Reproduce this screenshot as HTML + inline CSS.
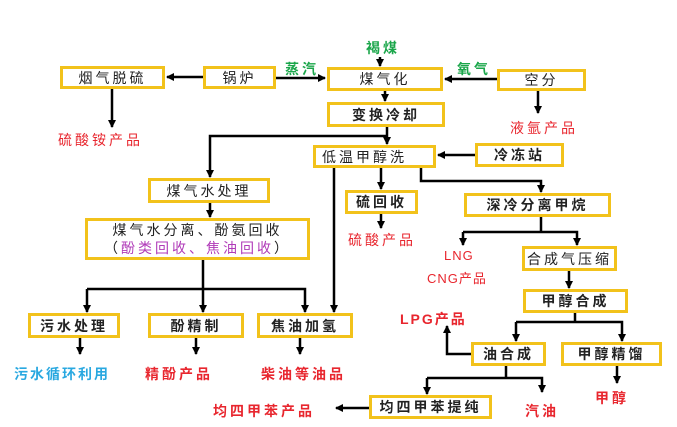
<!DOCTYPE html>
<html><head><meta charset="utf-8"><style>
body{margin:0;background:#fff;}
.w{position:relative;width:677px;height:427px;overflow:hidden;font-family:"Liberation Sans","Noto Sans CJK SC",sans-serif;}
.b{position:absolute;box-sizing:border-box;border:3px solid #f2c21b;background:#fff;display:flex;align-items:center;justify-content:center;font-size:14px;font-weight:bold;color:#222;letter-spacing:3px;white-space:nowrap;}
.t{position:absolute;font-size:14px;font-weight:bold;letter-spacing:3px;white-space:nowrap;}
.r{color:#e8262e}.g{color:#1aa64a}.bl{color:#29a8e0}.p{color:#b03ab8}
svg{position:absolute;left:0;top:0;}
</style></head><body><div class="w">
<svg width="677" height="427">
<defs><marker id="a" markerWidth="8" markerHeight="8" refX="7" refY="4" orient="auto" markerUnits="userSpaceOnUse"><path d="M0,0L8,4L0,8z" fill="#000"/></marker></defs>
<g stroke="#000" stroke-width="2.5" fill="none">
<path d="M203,77H167" marker-end="url(#a)"/>
<path d="M276,78H325" marker-end="url(#a)"/>
<path d="M497,79H445" marker-end="url(#a)"/>
<path d="M380,57V66" marker-end="url(#a)"/>
<path d="M112,88V127" marker-end="url(#a)"/>
<path d="M538,91V113" marker-end="url(#a)"/>
<path d="M385,91V101" marker-end="url(#a)"/>
<path d="M387,127V144" marker-end="url(#a)"/>
<path d="M387,136H210V177" marker-end="url(#a)"/>
<path d="M475,155H438" marker-end="url(#a)"/>
<path d="M381,168V189" marker-end="url(#a)"/>
<path d="M421,168V181H541V192" marker-end="url(#a)"/>
<path d="M381,214V228" marker-end="url(#a)"/>
<path d="M334,168V312" marker-end="url(#a)"/>
<path d="M541,217V232"/>
<path d="M463,232H577V245" marker-end="url(#a)"/>
<path d="M463,232V245" marker-end="url(#a)"/>
<path d="M569,271V288" marker-end="url(#a)"/>
<path d="M575,313V322"/>
<path d="M516,322H622V341" marker-end="url(#a)"/>
<path d="M516,322V341" marker-end="url(#a)"/>
<path d="M471,354H447V326" marker-end="url(#a)"/>
<path d="M506,366V378"/>
<path d="M427,378H542V392" marker-end="url(#a)"/>
<path d="M427,378V394" marker-end="url(#a)"/>
<path d="M369,408H336" marker-end="url(#a)"/>
<path d="M617,366V383" marker-end="url(#a)"/>
<path d="M210,203V217" marker-end="url(#a)"/>
<path d="M203,260V312" marker-end="url(#a)"/>
<path d="M87,289H305V312" marker-end="url(#a)"/>
<path d="M87,289V312" marker-end="url(#a)"/>
<path d="M80,338V354" marker-end="url(#a)"/>
<path d="M196,338V354" marker-end="url(#a)"/>
<path d="M300,338V354" marker-end="url(#a)"/>
</g></svg>
<div class="b" style="left:60px;top:66px;width:105px;height:23px;font-weight:normal">烟气脱硫</div>
<div class="b" style="left:203px;top:66px;width:73px;height:23px;font-weight:normal">锅炉</div>
<div class="b" style="left:327px;top:67px;width:116px;height:24px;font-weight:normal">煤气化</div>
<div class="b" style="left:497px;top:69px;width:89px;height:22px;font-weight:normal">空分</div>
<div class="b" style="left:327px;top:102px;width:118px;height:25px">变换冷却</div>
<div class="b" style="left:313px;top:145px;width:123px;height:23px;font-weight:normal;justify-content:flex-start;padding-left:6px">低温甲醇洗</div>
<div class="b" style="left:475px;top:143px;width:89px;height:24px">冷冻站</div>
<div class="b" style="left:345px;top:190px;width:73px;height:24px">硫回收</div>
<div class="b" style="left:464px;top:193px;width:147px;height:24px">深冷分离甲烷</div>
<div class="b" style="left:148px;top:178px;width:122px;height:25px;font-weight:normal">煤气水处理</div>
<div class="b" style="left:85px;top:218px;width:225px;height:42px;font-weight:normal;flex-direction:column;line-height:18px">煤气水分离、酚氨回收<span>（<span class="p">酚类回收、焦油回收</span>）</span></div>
<div class="b" style="left:522px;top:246px;width:95px;height:25px;font-weight:normal">合成气压缩</div>
<div class="b" style="left:523px;top:289px;width:105px;height:24px">甲醇合成</div>
<div class="b" style="left:28px;top:313px;width:92px;height:25px">污水处理</div>
<div class="b" style="left:148px;top:313px;width:96px;height:25px">酚精制</div>
<div class="b" style="left:257px;top:313px;width:96px;height:25px">焦油加氢</div>
<div class="b" style="left:471px;top:342px;width:75px;height:24px">油合成</div>
<div class="b" style="left:561px;top:342px;width:101px;height:24px">甲醇精馏</div>
<div class="b" style="left:369px;top:395px;width:123px;height:24px">均四甲苯提纯</div>
<div class="t g" style="left:366px;top:38px">褐煤</div>
<div class="t g" style="left:285px;top:59px">蒸汽</div>
<div class="t g" style="left:457px;top:59px">氧气</div>
<div class="t r" style="left:58px;top:130px;font-weight:normal">硫酸铵产品</div>
<div class="t r" style="left:510px;top:118px;font-weight:normal">液氩产品</div>
<div class="t r" style="left:348px;top:230px;font-weight:normal">硫酸产品</div>
<div class="t r" style="left:444px;top:248px;font-weight:normal;font-size:13px;letter-spacing:1px">LNG</div>
<div class="t r" style="left:427px;top:268px;font-weight:normal;font-size:13px;letter-spacing:1px">CNG产品</div>
<div class="t r" style="left:400px;top:309px;letter-spacing:2px">LPG产品</div>
<div class="t bl" style="left:14px;top:364px;letter-spacing:2px">污水循环利用</div>
<div class="t r" style="left:145px;top:364px">精酚产品</div>
<div class="t r" style="left:261px;top:364px">柴油等油品</div>
<div class="t r" style="left:213px;top:401px">均四甲苯产品</div>
<div class="t r" style="left:525px;top:401px">汽油</div>
<div class="t r" style="left:595px;top:388px">甲醇</div>
</div></body></html>
